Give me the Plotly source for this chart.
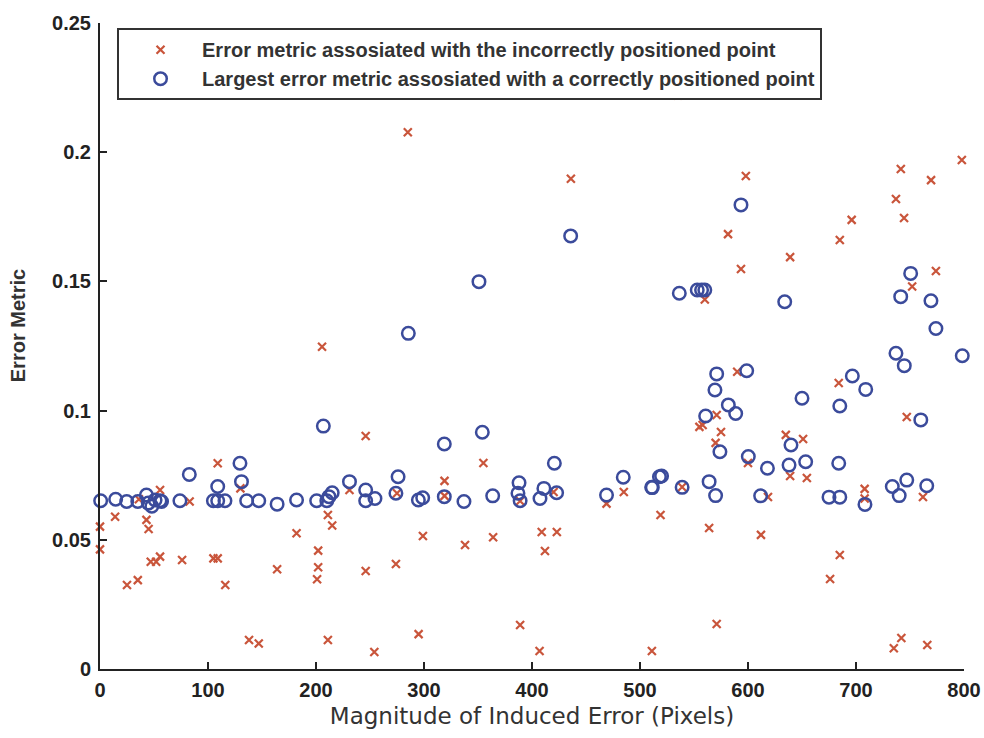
import plotly.graph_objects as go

# Error metric of the incorrectly positioned point, per induced error magnitude
wrong_x = [0, 0, 14, 25, 35, 36, 43, 45, 47, 52, 55.6, 55.6, 76, 83, 105, 109, 109, 116,
           130, 138, 147, 164, 182, 202, 202, 201, 205.6, 211, 215, 211, 231, 246, 246,
           254, 274, 275, 285, 295, 299, 319, 319, 338, 355, 364, 389, 389, 409, 412,
           423, 407, 420, 436, 469, 485, 511, 519, 535, 539, 555, 558, 560, 564, 570,
           571, 571, 575, 581.5, 590, 593.5, 598, 600, 612, 618.5, 635, 639, 639, 651,
           654.5, 676, 684, 685, 685, 696, 708, 708, 735, 737, 741.5, 742, 744.5, 747,
           752, 762, 766, 769.5, 774, 798]
wrong_y = [0.0551, 0.0463, 0.0589, 0.0325, 0.0344, 0.0657, 0.0577, 0.0542, 0.0415, 0.0415,
           0.0435, 0.0693, 0.0422, 0.0648, 0.0428, 0.0428, 0.0796, 0.0325, 0.0699, 0.0112,
           0.0099, 0.0386, 0.0525, 0.0458, 0.0394, 0.0347, 0.1247, 0.0596, 0.0555, 0.0112,
           0.0693, 0.0902, 0.0379, 0.0066, 0.0406, 0.068, 0.2077, 0.0135, 0.0515, 0.0728,
           0.067, 0.048, 0.0797, 0.051, 0.017, 0.065, 0.053, 0.0457, 0.053, 0.007, 0.0685,
           0.1897, 0.064, 0.0685, 0.007, 0.0596, 0.222, 0.0704, 0.0937, 0.0944, 0.143,
           0.0546, 0.0875, 0.0983, 0.0174, 0.0917, 0.1683, 0.115, 0.1548, 0.1908, 0.0797,
           0.0519, 0.0666, 0.0906, 0.1594, 0.0747, 0.089, 0.0739, 0.0348, 0.1107, 0.166,
           0.0441, 0.1738, 0.0697, 0.066, 0.008, 0.1819, 0.1935, 0.012, 0.1745, 0.0975,
           0.148, 0.0666, 0.0093, 0.1892, 0.154, 0.197]

# Largest error metric among the correctly positioned points
right_x = [0.6, 14.5, 24.7, 35, 43, 44.7, 48, 51, 55.5, 57, 74, 82.7, 105, 109, 109, 115.7,
           129.6, 131, 135.8, 147, 164, 182, 200.6, 206.8, 210, 212, 215, 231, 246, 246,
           254.6, 276, 274, 294.8, 298.8, 318.8, 318.8, 337, 354, 363.6, 388, 387, 389,
           407.4, 411, 420.7, 422.8, 469, 484.5, 510.8, 518, 285.5, 350.9, 435.8,
           536.4, 553, 557, 560, 593.5, 634, 750.6, 741.4, 769.4, 774, 737, 744.7, 798.4,
           571, 598.8, 569.4, 696.6, 709, 650, 685, 581.8, 588.6, 560.8, 760, 639.8, 574,
           600.3, 618, 638, 653.4, 684, 520, 511.4, 539, 564, 570, 611.7, 675, 685,
           708.3, 733.6, 747, 740, 765.5]
right_y = [0.0651, 0.0657, 0.0648, 0.0648, 0.0673, 0.0642, 0.063, 0.0654, 0.0651, 0.0648,
           0.0651, 0.0753, 0.0651, 0.0706, 0.0651, 0.0651, 0.0796, 0.0725, 0.0651, 0.0651,
           0.0638, 0.0654, 0.0651, 0.094, 0.0651, 0.0667, 0.0682, 0.0725, 0.0693, 0.0651,
           0.066, 0.0744, 0.068, 0.0654, 0.0663, 0.0871, 0.0667, 0.0648, 0.0916, 0.067,
           0.0721, 0.068, 0.0651, 0.066, 0.0699, 0.0796, 0.0682, 0.0673, 0.0742, 0.0703,
           0.0744, 0.1299, 0.1499, 0.1676, 0.1454, 0.1467, 0.1467, 0.1467, 0.1796, 0.1421,
           0.1531, 0.1441, 0.1425, 0.1318, 0.1222, 0.1174, 0.1212, 0.1142, 0.1154, 0.108,
           0.1134, 0.1082, 0.1048, 0.1018, 0.1022, 0.0989, 0.0979, 0.0964, 0.0867, 0.0841,
           0.0822, 0.0777, 0.0789, 0.0802, 0.0796, 0.0747, 0.0702, 0.0703, 0.0725, 0.0671,
           0.067, 0.0665, 0.0665, 0.0637, 0.0706, 0.0731, 0.0671, 0.0709]

x_ticks = [0, 100, 200, 300, 400, 500, 600, 700, 800]
y_ticks = [0, 0.05, 0.1, 0.15, 0.2, 0.25]
y_tick_text = ["0", "0.05", "0.1", "0.15", "0.2", "0.25"]

RED = "#c9553b"
BLUE = "#3b4b9b"
SANS = "Liberation Sans, Arial, sans-serif"

fig = go.Figure()
fig.add_trace(go.Scatter(
    x=wrong_x, y=wrong_y, mode="markers", cliponaxis=False,
    name="Error metric assosiated with the incorrectly positioned point",
    marker=dict(symbol="x-thin", size=8, color=RED, line=dict(color=RED, width=2.2)),
))
fig.add_trace(go.Scatter(
    x=right_x, y=right_y, mode="markers", cliponaxis=False,
    name="Largest error metric assosiated with a correctly positioned point",
    marker=dict(symbol="circle-open", size=12.5, color=BLUE, line=dict(color=BLUE, width=2.5)),
))

fig.update_layout(
    width=984, height=738,
    margin=dict(l=100, r=20, t=23, b=69),
    paper_bgcolor="white", plot_bgcolor="white",
    font=dict(family=SANS, color="#222"),
    showlegend=True,
    legend=dict(
        x=0.0197, y=0.992, xanchor="left", yanchor="top",
        bgcolor="white", bordercolor="#333", borderwidth=2,
        font=dict(family=SANS, size=20, color="#333", weight="bold"),
        itemwidth=73, traceorder="normal",
    ),
    xaxis=dict(
        range=[0, 800], tickvals=x_ticks, ticks="inside", ticklen=7, tickwidth=2,
        tickcolor="#222", showline=True, linecolor="#222", linewidth=2,
        showgrid=False, zeroline=False, mirror=False, automargin=False,
        tickfont=dict(family=SANS, size=20, color="#222", weight="bold"),
        ticklabelstandoff=2,
        title=dict(text="Magnitude of Induced Error (Pixels)", standoff=8,
                   font=dict(family="DejaVu Sans, sans-serif", size=23, color="#333")),
    ),
    yaxis=dict(
        range=[0, 0.25], tickvals=y_ticks, ticktext=y_tick_text, ticks="inside",
        ticklen=7, tickwidth=2, tickcolor="#222", showline=True, linecolor="#222",
        linewidth=2, showgrid=False, zeroline=False, mirror=False, automargin=False,
        tickfont=dict(family=SANS, size=20, color="#222", weight="bold"),
        ticklabelstandoff=3,
    ),
    annotations=[dict(
        text="Error Metric", xref="paper", yref="paper", x=-0.095, y=0.532,
        textangle=-90, showarrow=False, xanchor="center", yanchor="middle",
        font=dict(family=SANS, size=20, color="#333", weight="bold"),
    )],
)

fig.write_html("out.html")
